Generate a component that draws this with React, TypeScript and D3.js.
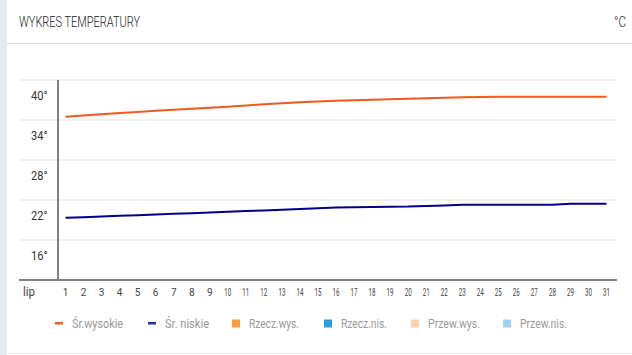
import React from "react";
import * as d3 from "d3";

const days = [1, 2, 3, 4, 5, 6, 7, 8, 9, 10, 11, 12, 13, 14, 15, 16, 17, 18, 19, 20, 21, 22, 23, 24, 25, 26, 27, 28, 29, 30, 31];
const avgHigh = [34.5, 34.68, 34.87, 35.05, 35.2, 35.38, 35.55, 35.7, 35.85, 36.0, 36.18, 36.35, 36.5, 36.65, 36.78, 36.88, 36.97, 37.05, 37.12, 37.2, 37.27, 37.35, 37.4, 37.45, 37.5, 37.5, 37.5, 37.5, 37.5, 37.5, 37.5];
const avgLow = [19.35, 19.42, 19.53, 19.63, 19.72, 19.83, 19.93, 20.02, 20.13, 20.23, 20.34, 20.44, 20.55, 20.65, 20.76, 20.86, 20.92, 20.95, 20.98, 21.01, 21.1, 21.18, 21.28, 21.3, 21.3, 21.3, 21.3, 21.3, 21.45, 21.45, 21.45];
const yTicks = [40, 34, 28, 22, 16];
const yTickLabels = ["40°", "34°", "28°", "22°", "16°"];
const monthLabel = "lip";
const title = "WYKRES TEMPERATURY";
const unit = "°C";
const legendItems = [
  { label: "Śr.wysokie", kind: "line", color: "#f15a22" },
  { label: "Śr. niskie", kind: "line", color: "#2a2aa0" },
  { label: "Rzecz.wys.", kind: "rect", color: "#ff9a3c" },
  { label: "Rzecz.nis.", kind: "rect", color: "#2b9fd9" },
  { label: "Przew.wys.", kind: "rect", color: "#ffcfa3" },
  { label: "Przew.nis.", kind: "rect", color: "#9fd3ef" },
];

const W = 632;
const H = 355;
const FONT = "Roboto, 'Noto Sans', sans-serif";

export default function App() {
  const x = d3.scaleLinear().domain([1, 31]).range([65.5, 606.5]);
  const y = d3.scaleLinear().domain([10, 40]).range([280, 80]);

  const line = d3
    .line<number>()
    .x((_, i) => x(days[i]))
    .y((d) => y(d));

  const legendX = [55, 148, 232, 324, 411, 503];
  const legendW = [51, 44, 50, 46, 52, 47];

  return (
    <svg
      width={W}
      height={H}
      style={{ position: "absolute", top: 0, left: 0, background: "#fff" }}
      fontFamily={FONT}
    >
      <rect x={0} y={0} width={W} height={H} fill="#fff" />
      <rect x={0} y={0} width={7} height={H} fill="#e4eaf2" />
      <text x={19} y={26.5} fontSize={14.5} fontWeight={300} fill="#222" textLength={121} lengthAdjust="spacingAndGlyphs">
        {title}
      </text>
      <text x={626} y={26.5} fontSize={14} fontWeight={300} fill="#222" textAnchor="end" textLength={12} lengthAdjust="spacingAndGlyphs">
        {unit}
      </text>
      <line x1={7} x2={W} y1={43.5} y2={43.5} stroke="#dedede" strokeWidth={1} />
      <line x1={7} x2={W} y1={353.5} y2={353.5} stroke="#eeeeee" strokeWidth={1} />

      {yTicks.map((t) => (
        <line key={"g" + t} x1={19} x2={617} y1={y(t)} y2={y(t)} stroke="#f1f1f1" strokeWidth={2} />
      ))}
      {yTicks.map((t, i) => (
        <text key={"l" + t} x={47.5} y={y(t) + 19.5} fontSize={13} fill="#333" textAnchor="end" textLength={16.5} lengthAdjust="spacingAndGlyphs">
          {yTickLabels[i]}
        </text>
      ))}
      <line x1={58} x2={58} y1={y(40)} y2={y(10)} stroke="#808080" strokeWidth={2} />
      <line x1={19} x2={617} y1={y(10)} y2={y(10)} stroke="#808080" strokeWidth={2} />

      <text x={23} y={296} fontSize={12} fill="#444" textLength={12} lengthAdjust="spacingAndGlyphs">
        {monthLabel}
      </text>
      {days.map((d) => (
        <text
          key={"x" + d}
          x={x(d)}
          y={296}
          fontSize={10}
          fill="#444"
          textAnchor="middle"
          {...(d >= 10 ? { textLength: 7, lengthAdjust: "spacingAndGlyphs" } : {})}
        >
          {d}
        </text>
      ))}

      <path d={line(avgHigh) || ""} fill="none" stroke="#f15a1e" strokeWidth={2} />
      <path d={line(avgLow) || ""} fill="none" stroke="#00008b" strokeWidth={2} />

      {legendItems.map((it, i) =>
        <g key={it.label}>
          {it.kind === "line" ? (
            <rect x={legendX[i]} y={322} width={8} height={2.5} fill={it.color} />
          ) : (
            <rect x={legendX[i]} y={319.5} width={8} height={8} fill={it.color} />
          )}
          <text
            x={legendX[i] + 17}
            y={327.5}
            fontSize={12.5}
            fill="#999"
            textLength={legendW[i]}
            lengthAdjust="spacingAndGlyphs"
          >
            {it.label}
          </text>
        </g>
      )}
    </svg>
  );
}
